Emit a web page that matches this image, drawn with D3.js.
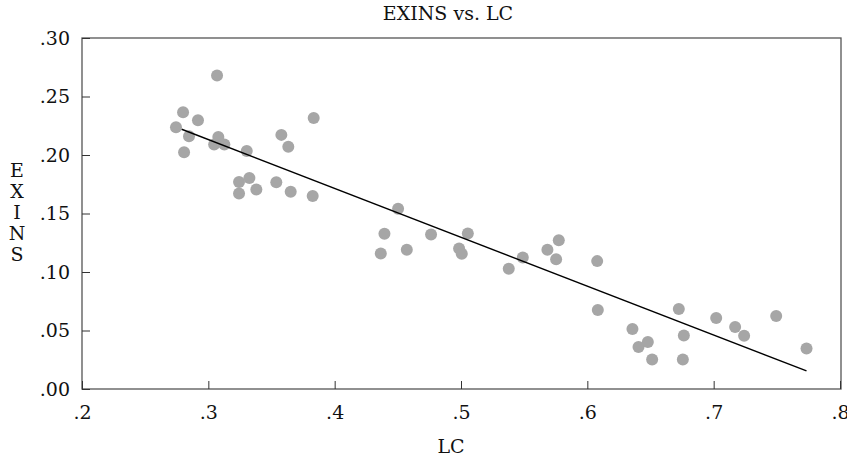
<!DOCTYPE html>
<html>
<head>
<meta charset="utf-8">
<script src="https://cdn.jsdelivr.net/npm/d3@7"></script>
<style>
  body { margin: 0; background: #fff; }
  text { font-family: "DejaVu Serif", serif; fill: #111; }
</style>
</head>
<body>
<div id="chart"></div>
<script>
// LC values (x) and EXINS values (y)
var lc = [0.2744, 0.2800, 0.2808, 0.2847, 0.2918, 0.3069, 0.3046, 0.3079, 0.3127, 0.3304,
          0.3243, 0.3325, 0.3243, 0.3380, 0.3538, 0.3578, 0.3633, 0.3652, 0.3834, 0.3826,
          0.4502, 0.4394, 0.4365, 0.4571, 0.4763, 0.5054, 0.4985, 0.5006, 0.5378, 0.5489,
          0.5684, 0.5774, 0.5753, 0.6078, 0.6083, 0.6357, 0.6405, 0.6479, 0.6513, 0.6724,
          0.6764, 0.6756, 0.7020, 0.7170, 0.7241, 0.7495, 0.7735];
var exins = [0.2237, 0.2365, 0.2024, 0.2160, 0.2297, 0.2680, 0.2090, 0.2153, 0.2090, 0.2035,
             0.1770, 0.1804, 0.1670, 0.1705, 0.1768, 0.2172, 0.2070, 0.1685, 0.2317, 0.1650,
             0.1540, 0.1326, 0.1159, 0.1190, 0.1321, 0.1330, 0.1201, 0.1155, 0.1027, 0.1124,
             0.1190, 0.1272, 0.1108, 0.1093, 0.0675, 0.0512, 0.0359, 0.0401, 0.0253, 0.0683,
             0.0458, 0.0253, 0.0606, 0.0529, 0.0455, 0.0623, 0.0347];

// fitted line EXINS = a + b*LC
var fitA = 0.3385, fitB = -0.4177;

var xTicks = [0.2, 0.3, 0.4, 0.5, 0.6, 0.7, 0.8];
var xTickLabels = [".2", ".3", ".4", ".5", ".6", ".7", ".8"];
var yTicks = [0, 0.05, 0.10, 0.15, 0.20, 0.25, 0.30];
var yTickLabels = [".00", ".05", ".10", ".15", ".20", ".25", ".30"];

var W = 847, H = 460;
var margin = {top: 38, left: 82, right: 6, bottom: 71};
var width = W - margin.left - margin.right,
    height = H - margin.top - margin.bottom;
var fs = 19;

var svg = d3.select("#chart").append("svg")
  .attr("width", W).attr("height", H);

var g = svg.append("g")
  .attr("transform", "translate(" + margin.left + "," + margin.top + ")");

var x = d3.scaleLinear().domain([0.2, 0.8]).range([0, 758]);
var y = d3.scaleLinear().domain([0, 0.30]).range([height, 0]);

// frame
g.append("rect")
  .attr("x", 0).attr("y", 0)
  .attr("width", 759).attr("height", height)
  .attr("fill", "none").attr("stroke", "#555").attr("stroke-width", 1.3);

// ticks pointing inside
g.append("g").attr("transform", "translate(0," + height + ")")
  .call(d3.axisBottom(x).tickValues(xTicks).tickSizeInner(-8).tickSizeOuter(0)
        .tickPadding(17).tickFormat(function(d, i) { return xTickLabels[i]; }))
  .call(function(a) {
    a.select(".domain").remove();
    a.selectAll("line").attr("stroke", "#333");
    a.selectAll("text").attr("font-size", fs).attr("font-family", "DejaVu Serif").attr("fill", "#111");
  });

g.append("g")
  .call(d3.axisLeft(y).tickValues(yTicks).tickSizeInner(-8).tickSizeOuter(0)
        .tickPadding(12).tickFormat(function(d, i) { return yTickLabels[i]; }))
  .call(function(a) {
    a.select(".domain").remove();
    a.selectAll("line").attr("stroke", "#333");
    a.selectAll("text").attr("font-size", fs).attr("font-family", "DejaVu Serif").attr("fill", "#111");
  });

// points
g.selectAll(".pt")
  .data(lc)
  .enter().append("circle")
  .attr("class", "pt")
  .attr("cx", function(d) { return x(d); })
  .attr("cy", function(d, i) { return y(exins[i]); })
  .attr("r", 6)
  .attr("fill", "#a6a6a6");

// regression line
var ext = [0.2789, d3.max(lc)];
g.append("line")
  .attr("x1", x(ext[0])).attr("y1", y(fitA + fitB * ext[0]))
  .attr("x2", x(ext[1])).attr("y2", y(fitA + fitB * ext[1]))
  .attr("stroke", "#000").attr("stroke-width", 1.4);

// titles
svg.append("text").attr("x", 448).attr("y", 20)
  .attr("text-anchor", "middle").attr("font-size", fs).text("EXINS vs. LC");

svg.append("text").attr("x", 451).attr("y", 453)
  .attr("text-anchor", "middle").attr("font-size", fs).text("LC");

var yl = "EXINS".split("");
svg.selectAll(".ylab")
  .data(yl)
  .enter().append("text")
  .attr("class", "ylab")
  .attr("x", 17)
  .attr("y", function(d, i) { return 177 + i * 21; })
  .attr("text-anchor", "middle")
  .attr("font-size", fs)
  .text(function(d) { return d; });
</script>
</body>
</html>
